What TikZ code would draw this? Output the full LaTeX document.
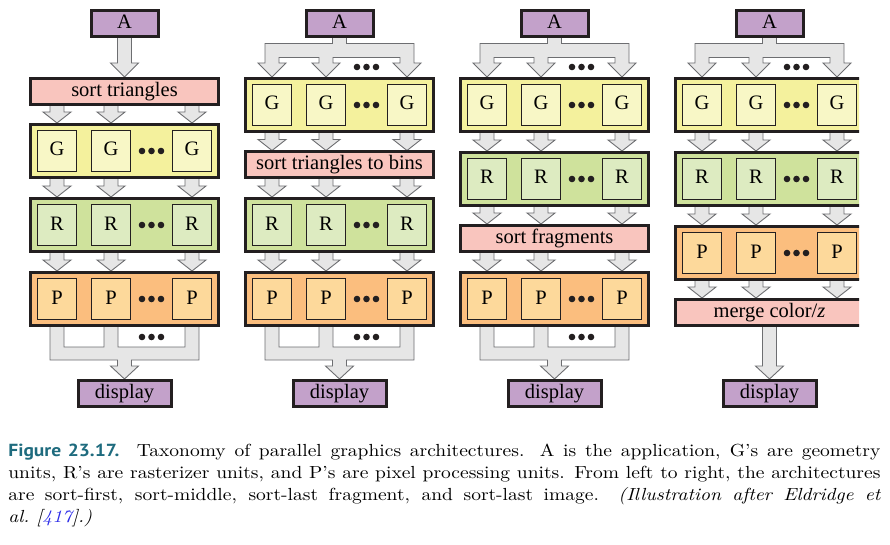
\documentclass[tikz,border=0pt]{standalone}
\usepackage{fontspec}
\usepackage{xcolor}
\usepackage{tikz}
\usetikzlibrary{calc}
\usetikzlibrary{positioning}
\usetikzlibrary{backgrounds}
\newfontfamily\diagfont{Liberation Serif}
\newfontfamily\figfont{PT Sans}
\definecolor{edge}{HTML}{231F20}
\definecolor{appcol}{HTML}{C3A1CA}
\definecolor{sortcol}{HTML}{F9C5BE}
\definecolor{bandG}{HTML}{F4F19D}
\definecolor{unitG}{HTML}{F8F7C6}
\definecolor{bandR}{HTML}{CFE29C}
\definecolor{unitR}{HTML}{DDEBC1}
\definecolor{bandP}{HTML}{FBBE7E}
\definecolor{unitP}{HTML}{FDD99B}
\definecolor{arrowcol}{HTML}{E6E6E6}
\definecolor{arrowedge}{HTML}{6D6E71}
\definecolor{figcol}{HTML}{1E6B7E}
\definecolor{linkcol}{HTML}{2B2BE8}
\newcommand\blockarrow[3][11]{%
  \draw[barrow] let \p1=(#2), \p2=(#3) in
    (\x1-7pt,\y1+1.5pt) -- (\x1-7pt,\y2+#1pt) -- (\x1-14pt,\y2+#1pt) -- (\x1,\y2)
    -- (\x1+14pt,\y2+#1pt) -- (\x1+7pt,\y2+#1pt) -- (\x1+7pt,\y1+1.5pt) -- cycle;}

\begin{document}
\begin{tikzpicture}[x=1pt, y=-1pt]
  \tikzstyle{band}=[draw=edge, line width=3pt, minimum width=188pt, minimum height=53pt, inner sep=0pt]
  \tikzstyle{bar}=[band, fill=sortcol, minimum height=26pt, text=black, font=\diagfont\fontsize{20.5}{24}\selectfont, text height=14pt, text depth=4pt]
  \tikzstyle{ends}=[bar, fill=appcol]
  \tikzstyle{unit}=[draw=edge, line width=0.8pt, minimum width=39.2pt, minimum height=41.2pt, inner sep=0pt, text=black, font=\diagfont\fontsize{20.5}{24}\selectfont, text height=14pt, text depth=4pt]
  \tikzstyle{barrow}=[draw=arrowedge, fill=arrowcol, line width=0.9pt]
\useasboundingbox (0,0) rectangle (890,545);
\begin{scope}
\clip (0,0) rectangle (859,420);
\foreach \c in {1,...,4}{
    \pgfmathsetmacro\cx{124.5+215*(\c-1)}
    \node[ends, minimum width=67pt] (A\c) at (\cx,24) {A};
    \node[ends, minimum width=93pt] (disp\c) at (\cx,393.5) {display};
  }
\node[bar] (sort1) at (124.5,91.5) {sort triangles};
\node[bar] (sort2) at (339.5,165) {sort triangles to bins};
\node[bar] (sort3) at (554.5,238.5) {sort fragments};
\node[bar] (merge4) at (769.5,312.5) {merge color/\textit{z}};
\foreach \c/\b/\y in {1/G/151, 1/R/225, 1/P/299, 2/G/105, 2/R/225, 2/P/299,
    3/G/105, 3/R/179, 3/P/299, 4/G/105, 4/R/179, 4/P/253}{
    \pgfmathsetmacro\cx{124.5+215*(\c-1)}
    \node[band, fill=band\b] (\b\c) at (\cx,\y) {};
    \foreach \u/\dx in {1/28, 2/82, 3/163}
      \node[unit, fill=unit\b] (\b\c-\u) at ($(\b\c.west)+(\dx,0)$) {\b};
    \foreach \dx in {-9.5,0,9.5}
      \fill[edge] ($(\b\c-2)!0.5!(\b\c-3)$) ++(\dx,0) circle (3.3pt);
  }
\end{scope}

\begin{scope}[on background layer]
\blockarrow[14]{A1.south}{sort1.north}
\blockarrow[13]{merge4.south}{disp4.north}
\foreach \c/\ua/\ub in {1/sort1/G1, 1/G1/R1, 1/R1/P1, 2/G2/sort2, 2/sort2/R2, 2/R2/P2,
    3/G3/R3, 3/R3/sort3, 3/sort3/P3, 4/G4/R4, 4/R4/P4, 4/P4/merge4}
  \foreach \u in {1,2,3}
    \blockarrow{P\c-\u |- \ua.south}{P\c-\u |- \ub.north};
\foreach \c in {2,3,4}
  \draw[barrow] let \p4=(A\c.south), \p1=(G\c-1 |- G\c.north), \p2=(G\c-2 |- G\c.north), \p3=(G\c-3 |- G\c.north) in
    (\x4-7pt,\y4+1.5pt) -- (\x4-7pt,\y4-5pt) -- (\x1-7pt,\y4-5pt)
    -- (\x1-7pt,\y1+14pt) -- (\x1-14pt,\y1+14pt) -- (\x1,\y1) -- (\x1+14pt,\y1+14pt) -- (\x1+7pt,\y1+14pt)
    -- (\x1+7pt,\y4-19pt) -- (\x2-7pt,\y4-19pt)
    -- (\x2-7pt,\y1+14pt) -- (\x2-14pt,\y1+14pt) -- (\x2,\y1) -- (\x2+14pt,\y1+14pt) -- (\x2+7pt,\y1+14pt)
    -- (\x2+7pt,\y4-19pt) -- (\x3-7pt,\y4-19pt)
    -- (\x3-7pt,\y1+14pt) -- (\x3-14pt,\y1+14pt) -- (\x3,\y1) -- (\x3+14pt,\y1+14pt) -- (\x3+7pt,\y1+14pt)
    -- (\x3+7pt,\y4-5pt) -- (\x4+7pt,\y4-5pt) -- (\x4+7pt,\y4+1.5pt) -- cycle;
\foreach \c in {1,2,3}
  \draw[barrow] let \p4=(disp\c.north), \p1=(P\c-1 |- P\c.south), \p2=(P\c-2 |- P\c.south), \p3=(P\c-3 |- P\c.south) in
    (\x1-7pt,\y1+1.5pt) -- (\x1-7pt,\y1-33pt) -- (\x4-7pt,\y1-33pt)
    -- (\x4-7pt,\y4+13pt) -- (\x4-14pt,\y4+13pt) -- (\x4,\y4) -- (\x4+14pt,\y4+13pt) -- (\x4+7pt,\y4+13pt)
    -- (\x4+7pt,\y1-33pt) -- (\x3+7pt,\y1-33pt) -- (\x3+7pt,\y1+1.5pt) -- (\x3-7pt,\y1+1.5pt)
    -- (\x3-7pt,\y1-20pt) -- (\x2+7pt,\y1-20pt) -- (\x2+7pt,\y1+1.5pt) -- (\x2-7pt,\y1+1.5pt)
    -- (\x2-7pt,\y1-20pt) -- (\x1+7pt,\y1-20pt) -- (\x1+7pt,\y1+1.5pt) -- cycle;
\end{scope}

\foreach \c in {2,3,4}
  \foreach \dx in {-9.5,0,9.5}
    \fill[edge] ($(G\c-2 |- G\c.north)!0.5!(G\c-3 |- G\c.north)$) ++(\dx,-10) circle (3.3pt);
\foreach \c in {1,2,3}
  \foreach \dx in {-9.5,0,9.5}
    \fill[edge] ($(P\c-2 |- P\c.south)!0.5!(P\c-3 |- P\c.south)$) ++(\dx,10) circle (3.3pt);

\node[anchor=north west, inner sep=0pt, xscale=1.95, yscale=1.75, text width=447.2pt, align=justify,
    font=\fontsize{10}{12.57}\selectfont] (caption) at (8,444)
  {{\figfont\bfseries\color{figcol}Figure 23.17.}\hspace{0.9em}Taxonomy of parallel graphics architectures. A is the application, G's are geometry\linebreak
   units, R's are rasterizer units, and P's are pixel processing units. From left to right, the architectures\linebreak
   are sort-first, sort-middle, sort-last fragment, and sort-last image.\quad{\itshape (Illustration after Eldridge et\linebreak
   al.~[\textcolor{linkcol}{417}].)}};
\end{tikzpicture}
\end{document}
